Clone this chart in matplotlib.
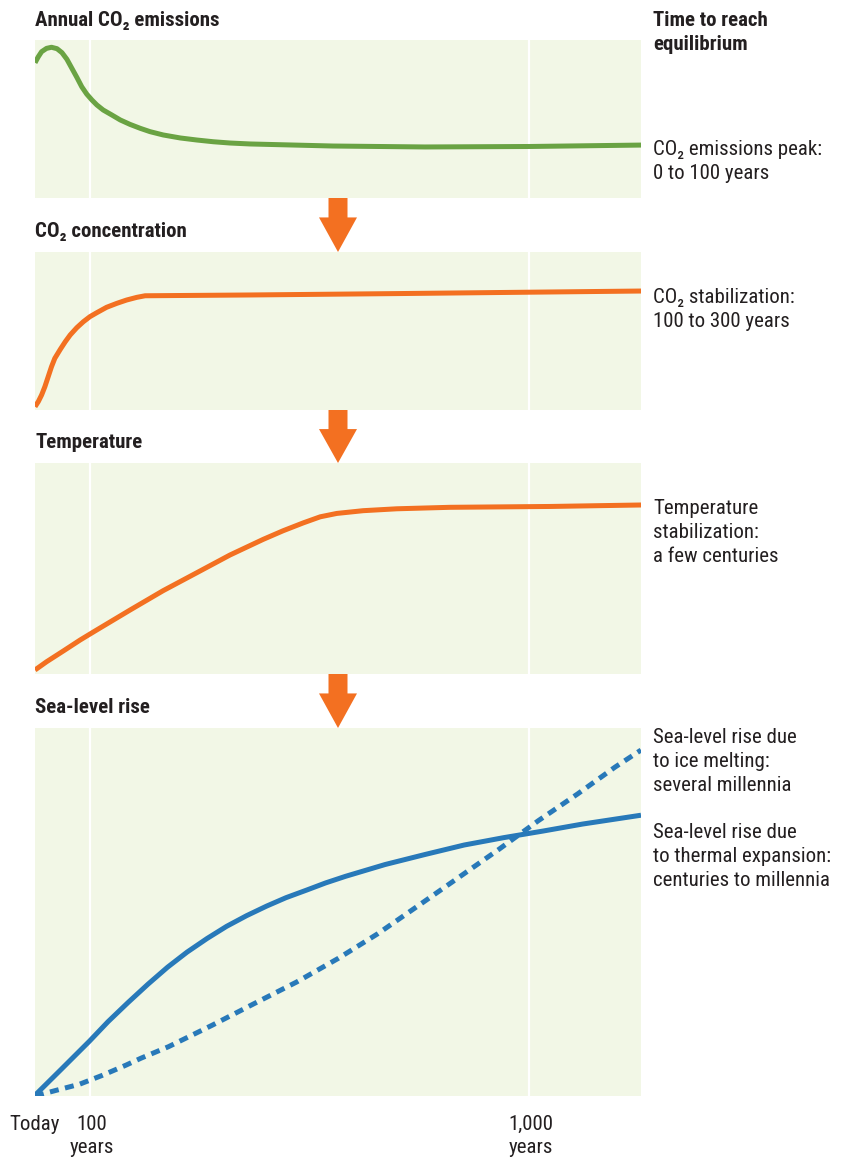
import numpy as np
import matplotlib
matplotlib.use('Agg')
import matplotlib.pyplot as plt
from matplotlib.patches import Polygon

plt.rcParams['font.family'] = ['Roboto Condensed', 'Liberation Sans Narrow', 'Roboto', 'DejaVu Sans']

# years from today, relative level (0 = bottom of panel, 100 = top)
yr_emis = [0, 6, 12, 21, 30, 40, 49, 58, 67, 76, 85, 94, 104, 114, 127, 145, 162,
           182, 203, 223, 250, 285, 319, 353, 387, 428, 598, 787, 1000, 1230]
emissions = [85.6, 89.4, 92.6, 94.7, 95.4, 94.5, 92.0, 87.8, 82.1, 76.4, 70.4, 65.8,
             62.0, 58.9, 55.7, 52.5, 49.4, 46.6, 44.1, 42.0, 39.9, 38.0, 36.7, 35.6,
             34.8, 34.2, 32.9, 32.3, 32.6, 33.5]

yr_conc = [0, 6, 12, 18, 24, 30, 36, 46, 55, 64, 76, 88, 100, 114, 134, 155, 175,
           196, 213, 428, 736, 1230]
concentration = [2.1, 5.3, 9.5, 14.8, 21.1, 27.4, 32.7, 38.4, 43.2, 47.5, 52.1, 55.9,
                 59.1, 61.6, 65.0, 67.5, 69.6, 71.3, 72.3, 72.8, 73.7, 75.3]

yr_temp = [0, 21, 52, 82, 114, 182, 250, 319, 387, 455, 496, 537, 572, 606, 660,
           729, 838, 1043, 1230]
temperature = [1.9, 5.8, 11.0, 16.1, 20.9, 30.3, 39.5, 48.0, 56.4, 63.8, 67.9, 71.6,
               74.5, 76.1, 77.4, 78.3, 79.0, 79.4, 80.1]

yr_thermal = [0, 48, 99, 137, 178, 219, 259, 299, 340, 380, 421, 462, 502, 543, 583,
              624, 705, 786, 867, 948, 1029, 1110, 1230]
thermal = [0.2, 7.3, 14.9, 20.2, 25.4, 30.4, 35.0, 39.1, 42.8, 46.1, 49.0, 51.6, 53.9,
           55.9, 57.9, 59.7, 62.9, 65.6, 68.2, 70.2, 72.0, 73.9, 76.3]

yr_ice = [0, 40, 81, 125, 174, 205, 261, 350, 435, 524, 609, 690, 775, 856, 938, 1019,
          1100, 1177, 1230]
ice = [0.0, 1.6, 3.2, 5.6, 8.4, 10.3, 13.4, 19.2, 25.0, 31.0, 37.4, 44.1, 51.9, 59.4,
       67.0, 74.8, 82.1, 89.4, 94.0]

tick_years = [0, 100, 1000]
tick_labels = ['Today', '100\nyears', '1,000\nyears']

# the time axis of the original is stretched a bit before 100 years
scale_yr = [0, 100, 1000, 1230]
scale_px = [0, 55, 494, 606]


def fwd(x):
    return np.interp(x, scale_yr, scale_px)


def inv(x):
    return np.interp(x, scale_px, scale_yr)


W, H = 850, 1157
BG = '#f2f7e6'
TXT = '#231f20'
GREEN = '#6aa343'
ORANGE = '#f37021'
BLUE = '#2879b9'
fs = 15

fig = plt.figure(figsize=(W / 100, H / 100), dpi=100)


def fx(px):
    return px / W


def fy(py):
    return 1 - py / H


# panel boxes in pixels: top, bottom
boxes = [(40, 198), (252, 410), (463, 674), (728, 1096)]
axes = []
for top, bot in boxes:
    ax = fig.add_axes([fx(35), fy(bot), fx(641) - fx(35), (bot - top) / H])
    ax.set_facecolor(BG)
    ax.set_xscale('function', functions=(fwd, inv))
    ax.set_xlim(0, 1230)
    ax.set_ylim(0, 100)
    for s in ax.spines.values():
        s.set_visible(False)
    ax.set_xticks([])
    ax.set_yticks([])
    for t in tick_years[1:]:
        ax.axvline(t, color='white', lw=1.6, zorder=1)
    axes.append(ax)

lw = 3.6
axes[0].plot(yr_emis, emissions, color=GREEN, lw=lw, solid_capstyle='butt', zorder=3)
axes[1].plot(yr_conc, concentration, color=ORANGE, lw=lw, solid_capstyle='butt', zorder=3)
axes[2].plot(yr_temp, temperature, color=ORANGE, lw=lw, solid_capstyle='butt', zorder=3)
axes[3].plot(yr_thermal, thermal, color=BLUE, lw=lw, solid_capstyle='butt', zorder=3)
axes[3].plot(yr_ice, ice, color=BLUE, lw=lw, linestyle=(0, (1.8, 1.3)),
             dash_capstyle='butt', zorder=3)

# arrows between the panels
for (t1, b1), (t2, b2) in zip(boxes[:-1], boxes[1:]):
    cx = 338
    head = b1 + (t2 - b1) * 0.36
    pts = [(cx - 9.5, b1), (cx + 9.5, b1), (cx + 9.5, head), (cx + 19, head),
           (cx, t2), (cx - 19, head), (cx - 9.5, head)]
    fig.patches.append(Polygon([(fx(x), fy(y)) for x, y in pts], closed=True,
                               transform=fig.transFigure, facecolor=ORANGE,
                               edgecolor='none'))


def lines(x, y0, text_lines, bold=False, step=24):
    for i, s in enumerate(text_lines):
        fig.text(fx(x), fy(y0 + i * step), s, fontsize=fs, color=TXT,
                 fontweight='bold' if bold else 'normal', va='baseline', ha='left')


lines(35, 26, ['Annual CO₂ emissions'], bold=True)
lines(35, 237, ['CO₂ concentration'], bold=True)
lines(35, 448, ['Temperature'], bold=True)
lines(35, 713, ['Sea-level rise'], bold=True)

lines(653, 26, ['Time to reach', 'equilibrium'], bold=True)
lines(653, 155, ['CO₂ emissions peak:', '0 to 100 years'])
lines(653, 303, ['CO₂ stabilization:', '100 to 300 years'])
lines(653, 514, ['Temperature', 'stabilization:', 'a few centuries'])
lines(653, 743, ['Sea-level rise due', 'to ice melting:', 'several millennia'])
lines(653, 838, ['Sea-level rise due', 'to thermal expansion:', 'centuries to millennia'])

# time labels under the last panel, placed through the panel's x scale
ax = axes[3]
for t, lab in zip(tick_years, tick_labels):
    parts = lab.split('\n')
    xd = ax.transData.transform((t, 0))[0]
    xf = fig.transFigure.inverted().transform((xd, 0))[0]
    for i, s in enumerate(parts):
        fig.text(xf + fx(2 if t else 0), fy(1130 + 23 * i), s, fontsize=fs, color=TXT,
                 ha='center', va='baseline')

fig.savefig('out.png', dpi=100)
